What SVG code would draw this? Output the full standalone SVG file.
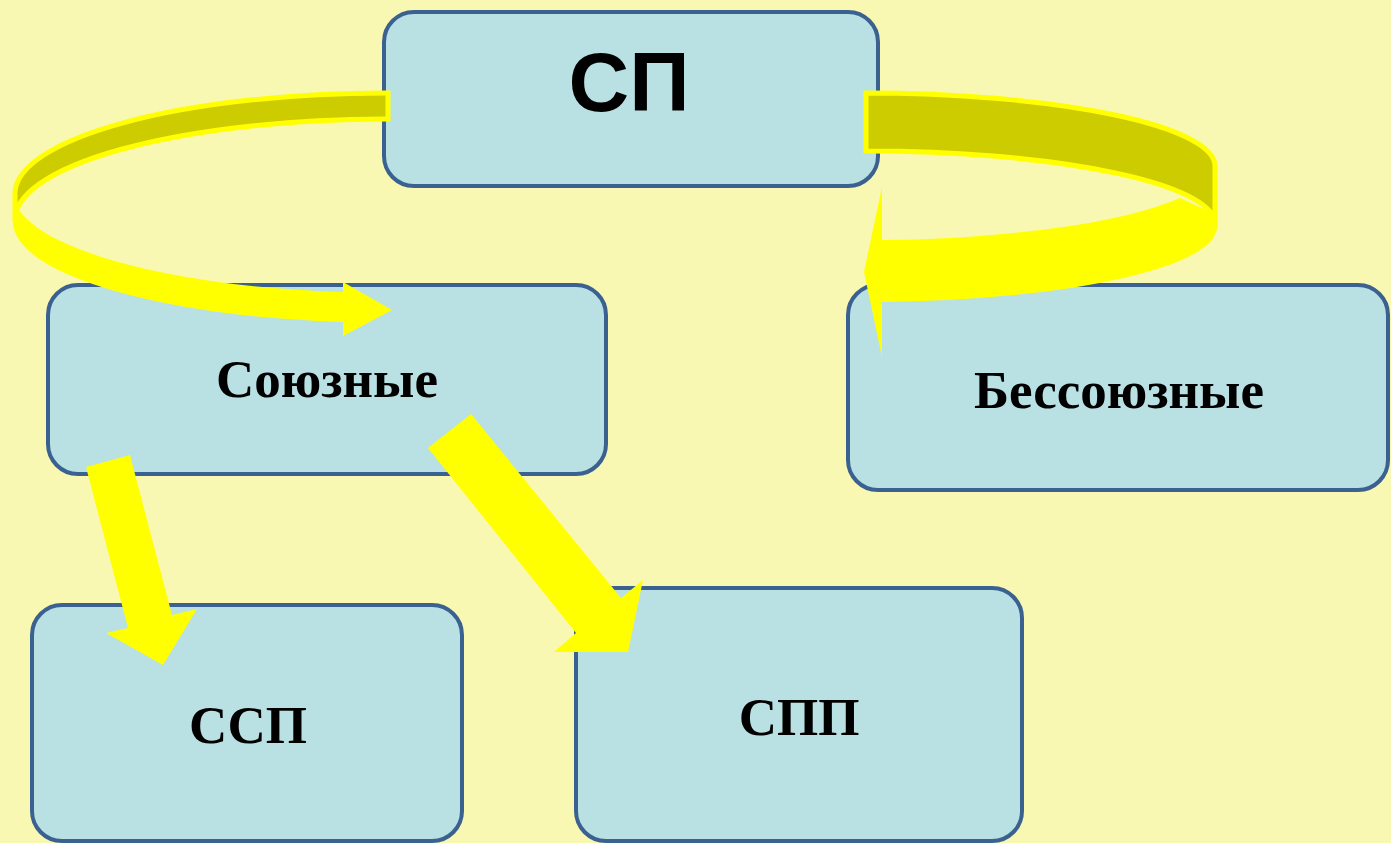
<svg xmlns="http://www.w3.org/2000/svg" width="1391" height="843" viewBox="0 0 1391 843">
<style>
.box{fill:#b9e0e3;stroke:#3b6190;stroke-width:4}
.sans{font-family:"Liberation Sans",Arial,sans-serif;font-weight:bold;fill:#000}
.serif{font-family:"Liberation Serif","Times New Roman",serif;font-weight:bold;fill:#000;font-size:53px}
.back{fill:#cccc00;stroke:#ffff00;stroke-width:5;stroke-linejoin:miter}
.front{fill:#ffff00}
</style>
<rect x="0" y="0" width="1391" height="843" fill="#f8f8b2"/>
<g id="node-sp">
<rect class="box" x="384" y="12" width="494" height="174" rx="30"/>
<text class="sans" x="629" y="111" font-size="84" text-anchor="middle">СП</text>
</g>
<g id="node-soyuznye">
<rect class="box" x="48" y="285" width="558" height="189" rx="30"/>
<text class="serif" x="327" y="397" text-anchor="middle">Союзные</text>
</g>
<g id="node-bessoyuznye">
<rect class="box" x="848" y="285" width="540" height="205" rx="30"/>
<text class="serif" x="1119" y="408" text-anchor="middle">Бессоюзные</text>
</g>
<g id="node-ssp">
<rect class="box" x="32" y="605" width="430" height="236" rx="30"/>
<text class="serif" x="248" y="743" text-anchor="middle">ССП</text>
</g>
<g id="node-spp">
<rect class="box" x="576" y="588" width="446" height="253" rx="30"/>
<text class="serif" x="799" y="735" text-anchor="middle">СПП</text>
</g>
<g id="connectors">
<path class="back" d="M 388,93 L 385,93 A 372,101 0 0 0 15,192 L 15,222 A 372,101 0 0 1 385,119 L 388,119 Z"/>
<path class="front" d="M 13,192 A 372,101 0 0 0 343,292 L 343,282 L 392,310 L 343,336 L 343,322 A 372,101 0 0 1 13,222 Z"/>
<path class="back" d="M 866,93 A 350,73 0 0 1 1215,166 L 1215,226 A 350,73 0 0 0 866,151 Z"/>
<path class="front" d="M 1180,198 L 1217,215 L 1217,227 A 352,75 0 0 1 882,302 L 882,357 L 864,272 L 882,187 L 882,240 A 350,75 0 0 0 1180,198 Z"/>
<polygon class="front" points="86,467 130,455 172,615 197,609 163,665 106,633 128,628"/>
<polygon class="front" points="428,448 471,414 621,598 643,580 628,652 554,652 576,633"/>
</g>
</svg>
